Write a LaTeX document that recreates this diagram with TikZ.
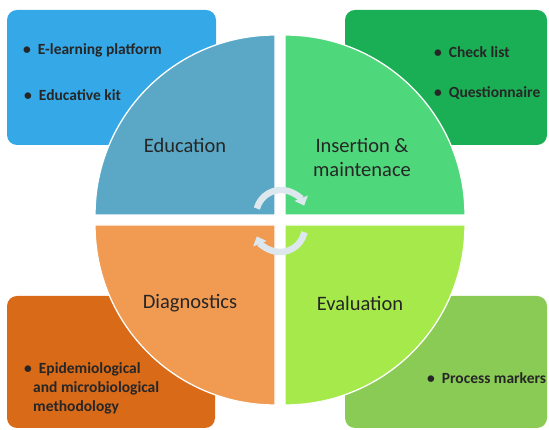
\documentclass[tikz,border=0pt]{standalone}
\usepackage{fontspec}
\setmainfont{Carlito}
\usetikzlibrary{arrows.meta}

\definecolor{eduBox}{HTML}{35A9E8}
\definecolor{insBox}{HTML}{1AAF54}
\definecolor{diaBox}{HTML}{D86A18}
\definecolor{evaBox}{HTML}{8ACB55}
\definecolor{eduQuad}{HTML}{5AA8C6}
\definecolor{insQuad}{HTML}{4FD77B}
\definecolor{diaQuad}{HTML}{F09A52}
\definecolor{evaQuad}{HTML}{A5E94A}
\definecolor{cycleFill}{HTML}{DCE7EE}

\tikzset{
  box/.style={rounded corners=10pt},
  quad/.style={draw=white, line width=1.3pt},
  title/.style={font=\fontsize{20.5}{24}\selectfont, align=center, text=black!85},
  item/.style={font=\fontsize{15.5}{19}\selectfont\bfseries, anchor=west, align=left, inner sep=0pt, text=black!85},
  turn/.style={cycleFill, line width=6.5pt, -{Triangle[width=14pt,length=8pt]}}
}

\begin{document}
\begin{tikzpicture}[x=1pt,y=1pt]
			\useasboundingbox (0,0) rectangle (549,430);
			
			% corner boxes
			\fill[box, eduBox] (7,285) rectangle (216,420);
			\fill[box, insBox] (345,285) rectangle (547,420);
			\fill[box, diaBox] (7,2) rectangle (215,134);
			\fill[box, evaBox] (345,2) rectangle (547,134);
			
			% four quarters
			\filldraw[quad, fill=eduQuad] (275,215) -- (95,215) arc (180:90:180) -- cycle;
			\filldraw[quad, fill=insQuad] (285,215) -- (285,395) arc (90:0:180) -- cycle;
			\filldraw[quad, fill=diaQuad] (275,205) -- (275,25) arc (270:180:180) -- cycle;
			\filldraw[quad, fill=evaQuad] (285,205) -- (465,205) arc (0:-90:180) -- cycle;
			
			% cycle arrows
			\draw[turn] ([shift={(165:25)}]281,215) arc (165:22:25);
			\draw[turn] ([shift={(-12:25)}]280,203) arc (-12:-158:25);
			
			% titles
			\node[title] (education) at (185,285) {Education};
			\node[title] (insertion) at (362,273) {Insertion \&\\maintenace};
			\node[title] (diagnostics) at (190,127) {Diagnostics};
			\node[title] (evaluation) at (360,127) {Evaluation};
			
			% items
			\node[item] (elearning) at (23,380) {\textbullet\hspace{7pt}E-learning platform};
			\node[item] (kit) at (24,335) {\textbullet\hspace{7pt}Educative kit};
			\node[item] (checklist) at (434,378) {\textbullet\hspace{7pt}Check list};
			\node[item] (questionnaire) at (434,337) {\textbullet\hspace{7pt}Questionnaire};
			\node[item, anchor=north west] (methodology) at (24,68) {\textbullet\hspace{7pt}Epidemiological\\\hspace{9pt}and microbiological\\\hspace{9pt}methodology};
			\node[item] (markers) at (427,52) {\textbullet\hspace{7pt}Process markers};
			
		\end{tikzpicture}
\end{document}
